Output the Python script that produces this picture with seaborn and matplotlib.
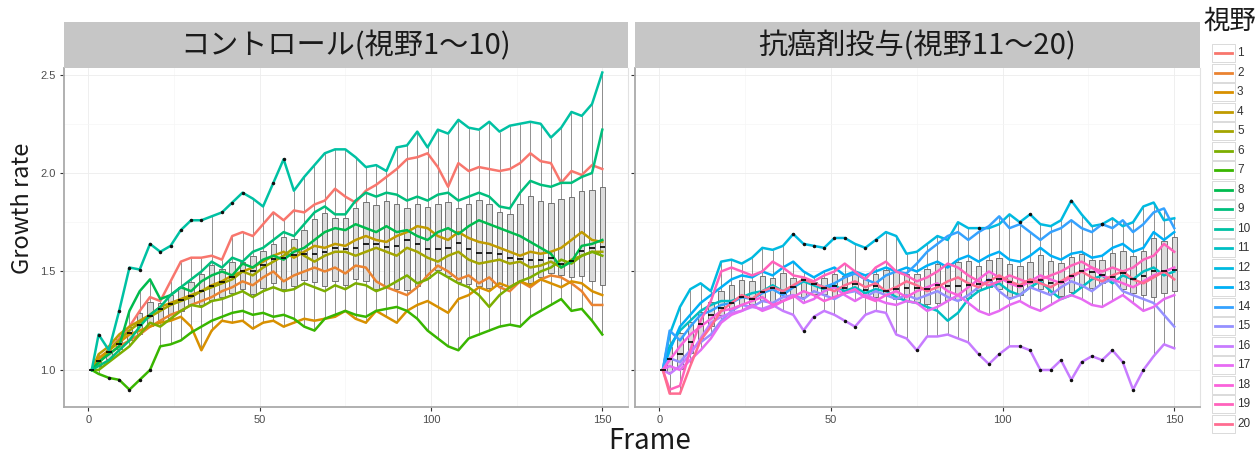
import matplotlib
matplotlib.use("Agg")
import matplotlib.pyplot as plt
from matplotlib.patches import Rectangle
from matplotlib.lines import Line2D
from matplotlib.ticker import MultipleLocator
import pandas as pd
import seaborn as sns

# ---- data -------------------------------------------------------------
frames = [1] + list(range(3, 151, 3))

# control group, fields of view 1-10
v01 = [1.00, 1.05, 1.10, 1.16, 1.22, 1.30, 1.37, 1.35, 1.45, 1.55,
       1.57, 1.57, 1.58, 1.56, 1.68, 1.70, 1.68, 1.74, 1.80, 1.76,
       1.81, 1.80, 1.84, 1.86, 1.92, 1.88, 1.85, 1.91, 1.94, 1.98,
       2.02, 2.07, 2.08, 2.10, 2.03, 1.93, 2.05, 2.01, 2.03, 2.02,
       2.01, 2.02, 2.05, 2.10, 2.06, 2.05, 1.95, 2.01, 1.99, 2.04,
       2.02]
v02 = [1.00, 1.05, 1.08, 1.12, 1.15, 1.18, 1.22, 1.25, 1.28, 1.30,
       1.33, 1.35, 1.37, 1.40, 1.42, 1.45, 1.43, 1.47, 1.50, 1.45,
       1.48, 1.50, 1.52, 1.50, 1.52, 1.49, 1.53, 1.52, 1.45, 1.42,
       1.40, 1.38, 1.42, 1.48, 1.53, 1.50, 1.46, 1.48, 1.44, 1.47,
       1.42, 1.40, 1.45, 1.42, 1.46, 1.48, 1.47, 1.44, 1.40, 1.33,
       1.33]
v03 = [1.00, 1.06, 1.10, 1.14, 1.18, 1.20, 1.22, 1.24, 1.25, 1.27,
       1.22, 1.10, 1.20, 1.25, 1.24, 1.25, 1.21, 1.24, 1.25, 1.22,
       1.24, 1.26, 1.25, 1.26, 1.27, 1.30, 1.26, 1.24, 1.30, 1.27,
       1.24, 1.30, 1.33, 1.35, 1.32, 1.29, 1.36, 1.38, 1.42, 1.40,
       1.44, 1.42, 1.45, 1.43, 1.46, 1.44, 1.42, 1.45, 1.44, 1.40,
       1.38]
v04 = [1.00, 1.08, 1.12, 1.18, 1.22, 1.25, 1.28, 1.32, 1.34, 1.36,
       1.38, 1.40, 1.43, 1.45, 1.48, 1.50, 1.52, 1.55, 1.58, 1.60,
       1.57, 1.60, 1.63, 1.62, 1.64, 1.63, 1.66, 1.68, 1.66, 1.65,
       1.68, 1.70, 1.73, 1.72, 1.68, 1.66, 1.70, 1.67, 1.65, 1.64,
       1.62, 1.60, 1.58, 1.60, 1.59, 1.60, 1.62, 1.66, 1.70, 1.66,
       1.65]
v05 = [1.00, 1.03, 1.10, 1.15, 1.20, 1.24, 1.27, 1.30, 1.33, 1.35,
       1.37, 1.40, 1.42, 1.44, 1.46, 1.50, 1.48, 1.52, 1.55, 1.58,
       1.62, 1.58, 1.55, 1.58, 1.60, 1.60, 1.58, 1.60, 1.62, 1.60,
       1.58, 1.62, 1.60, 1.57, 1.55, 1.58, 1.60, 1.56, 1.54, 1.55,
       1.56, 1.54, 1.55, 1.52, 1.53, 1.55, 1.52, 1.56, 1.58, 1.60,
       1.60]
v06 = [1.00, 1.00, 1.04, 1.08, 1.12, 1.18, 1.24, 1.22, 1.26, 1.30,
       1.33, 1.32, 1.35, 1.36, 1.38, 1.40, 1.37, 1.40, 1.42, 1.40,
       1.41, 1.44, 1.42, 1.40, 1.43, 1.41, 1.44, 1.43, 1.40, 1.42,
       1.45, 1.48, 1.44, 1.46, 1.50, 1.47, 1.44, 1.42, 1.38, 1.32,
       1.38, 1.42, 1.45, 1.47, 1.50, 1.52, 1.56, 1.54, 1.58, 1.60,
       1.58]
v07 = [1.00, 0.98, 0.96, 0.95, 0.90, 0.95, 1.00, 1.12, 1.13, 1.15,
       1.19, 1.22, 1.25, 1.27, 1.29, 1.30, 1.28, 1.29, 1.27, 1.28,
       1.26, 1.22, 1.20, 1.26, 1.28, 1.30, 1.28, 1.27, 1.30, 1.31,
       1.32, 1.30, 1.26, 1.20, 1.16, 1.12, 1.10, 1.16, 1.18, 1.20,
       1.22, 1.23, 1.22, 1.27, 1.30, 1.33, 1.36, 1.30, 1.31, 1.25,
       1.18]
v08 = [1.00, 1.04, 1.08, 1.12, 1.30, 1.40, 1.46, 1.36, 1.38, 1.42,
       1.40, 1.45, 1.48, 1.50, 1.48, 1.54, 1.52, 1.56, 1.58, 1.56,
       1.60, 1.62, 1.66, 1.70, 1.72, 1.71, 1.74, 1.72, 1.70, 1.73,
       1.70, 1.71, 1.68, 1.66, 1.70, 1.72, 1.69, 1.73, 1.76, 1.74,
       1.72, 1.70, 1.68, 1.65, 1.62, 1.59, 1.52, 1.55, 1.63, 1.64,
       1.66]
v09 = [1.00, 1.02, 1.05, 1.10, 1.15, 1.22, 1.28, 1.32, 1.38, 1.42,
       1.46, 1.50, 1.55, 1.52, 1.57, 1.55, 1.60, 1.62, 1.66, 1.70,
       1.68, 1.74, 1.80, 1.83, 1.79, 1.79, 1.86, 1.90, 1.88, 1.90,
       1.89, 1.86, 1.88, 1.86, 1.89, 1.90, 1.86, 1.88, 1.90, 1.88,
       1.83, 1.82, 1.90, 1.96, 1.94, 1.93, 1.95, 1.95, 1.98, 2.00,
       2.22]
v10 = [1.00, 1.18, 1.10, 1.30, 1.52, 1.51, 1.64, 1.60, 1.63, 1.71,
       1.76, 1.76, 1.78, 1.80, 1.85, 1.90, 1.87, 1.83, 1.95, 2.07,
       1.91, 1.98, 2.04, 2.10, 2.12, 2.12, 2.08, 2.03, 2.04, 2.01,
       2.13, 2.14, 2.21, 2.13, 2.22, 2.20, 2.27, 2.23, 2.22, 2.26,
       2.21, 2.24, 2.25, 2.26, 2.25, 2.18, 2.23, 2.31, 2.29, 2.35,
       2.51]

# anticancer drug group, fields of view 11-20
v11 = [1.00, 1.12, 1.20, 1.25, 1.30, 1.33, 1.35, 1.35, 1.37, 1.39,
       1.40, 1.43, 1.40, 1.42, 1.45, 1.43, 1.41, 1.43, 1.40, 1.42,
       1.39, 1.41, 1.40, 1.37, 1.35, 1.34, 1.32, 1.30, 1.25, 1.29,
       1.36, 1.40, 1.42, 1.44, 1.40, 1.38, 1.42, 1.45, 1.40, 1.36,
       1.38, 1.42, 1.46, 1.48, 1.44, 1.48, 1.46, 1.50, 1.52, 1.48,
       1.50]
v12 = [1.00, 1.18, 1.32, 1.41, 1.44, 1.40, 1.55, 1.56, 1.54, 1.57,
       1.62, 1.61, 1.63, 1.69, 1.64, 1.63, 1.62, 1.67, 1.67, 1.64,
       1.62, 1.66, 1.70, 1.68, 1.59, 1.60, 1.64, 1.68, 1.66, 1.75,
       1.72, 1.72, 1.72, 1.74, 1.79, 1.75, 1.79, 1.74, 1.73, 1.76,
       1.86, 1.79, 1.73, 1.74, 1.77, 1.73, 1.75, 1.83, 1.85, 1.76,
       1.77]
v13 = [1.00, 1.10, 1.22, 1.28, 1.34, 1.38, 1.42, 1.46, 1.48, 1.47,
       1.50, 1.48, 1.52, 1.55, 1.50, 1.47, 1.50, 1.52, 1.48, 1.50,
       1.48, 1.50, 1.52, 1.50, 1.52, 1.50, 1.53, 1.55, 1.52, 1.56,
       1.58, 1.55, 1.58, 1.60, 1.56, 1.55, 1.58, 1.62, 1.58, 1.56,
       1.59, 1.60, 1.57, 1.58, 1.62, 1.64, 1.60, 1.62, 1.70, 1.66,
       1.70]
v14 = [1.00, 1.20, 1.15, 1.22, 1.28, 1.30, 1.33, 1.34, 1.37, 1.36,
       1.39, 1.41, 1.38, 1.42, 1.46, 1.44, 1.42, 1.44, 1.47, 1.49,
       1.46, 1.44, 1.48, 1.50, 1.49, 1.54, 1.60, 1.64, 1.68, 1.70,
       1.66, 1.70, 1.73, 1.78, 1.72, 1.74, 1.70, 1.66, 1.70, 1.72,
       1.76, 1.72, 1.70, 1.74, 1.72, 1.76, 1.70, 1.74, 1.80, 1.82,
       1.72]
v15 = [1.00, 1.06, 1.04, 1.10, 1.14, 1.18, 1.25, 1.30, 1.33, 1.32,
       1.35, 1.34, 1.37, 1.38, 1.36, 1.40, 1.38, 1.36, 1.39, 1.40,
       1.37, 1.40, 1.38, 1.36, 1.38, 1.36, 1.38, 1.40, 1.37, 1.35,
       1.38, 1.42, 1.46, 1.40, 1.36, 1.38, 1.42, 1.40, 1.38, 1.42,
       1.45, 1.43, 1.40, 1.44, 1.46, 1.40, 1.38, 1.36, 1.34, 1.28,
       1.22]
v16 = [1.00, 0.98, 1.02, 1.08, 1.16, 1.24, 1.27, 1.29, 1.30, 1.32,
       1.31, 1.33, 1.30, 1.28, 1.20, 1.27, 1.30, 1.28, 1.25, 1.22,
       1.28, 1.30, 1.29, 1.18, 1.16, 1.10, 1.17, 1.17, 1.18, 1.16,
       1.14, 1.08, 1.03, 1.08, 1.12, 1.12, 1.10, 1.00, 1.00, 1.05,
       0.95, 1.04, 1.07, 1.05, 1.10, 1.04, 0.90, 1.00, 1.07, 1.13,
       1.11]
v17 = [1.00, 1.02, 1.00, 1.05, 1.10, 1.16, 1.24, 1.28, 1.30, 1.33,
       1.30, 1.32, 1.35, 1.38, 1.34, 1.36, 1.40, 1.42, 1.38, 1.35,
       1.38, 1.36, 1.34, 1.33, 1.35, 1.34, 1.30, 1.32, 1.35, 1.38,
       1.34, 1.30, 1.28, 1.30, 1.33, 1.35, 1.32, 1.30, 1.33, 1.36,
       1.38, 1.36, 1.33, 1.32, 1.35, 1.38, 1.34, 1.30, 1.32, 1.36,
       1.38]
v18 = [1.00, 1.05, 1.12, 1.18, 1.22, 1.26, 1.30, 1.31, 1.33, 1.35,
       1.37, 1.33, 1.35, 1.37, 1.40, 1.38, 1.35, 1.37, 1.39, 1.41,
       1.37, 1.35, 1.38, 1.40, 1.37, 1.40, 1.42, 1.44, 1.40, 1.38,
       1.42, 1.46, 1.50, 1.47, 1.44, 1.42, 1.45, 1.48, 1.46, 1.44,
       1.47, 1.50, 1.52, 1.48, 1.46, 1.44, 1.42, 1.45, 1.48, 1.50,
       1.52]
v19 = [1.00, 0.90, 0.92, 1.10, 1.25, 1.35, 1.50, 1.52, 1.50, 1.48,
       1.50, 1.55, 1.52, 1.48, 1.47, 1.45, 1.48, 1.50, 1.54, 1.50,
       1.46, 1.52, 1.55, 1.50, 1.48, 1.45, 1.47, 1.50, 1.54, 1.52,
       1.48, 1.45, 1.43, 1.45, 1.48, 1.46, 1.44, 1.46, 1.48, 1.50,
       1.53, 1.55, 1.52, 1.50, 1.52, 1.50, 1.52, 1.56, 1.58, 1.64,
       1.60]
v20 = [1.00, 0.88, 0.88, 1.02, 1.15, 1.22, 1.30, 1.34, 1.38, 1.36,
       1.40, 1.42, 1.40, 1.43, 1.46, 1.44, 1.42, 1.40, 1.43, 1.45,
       1.42, 1.44, 1.40, 1.42, 1.45, 1.43, 1.40, 1.42, 1.45, 1.47,
       1.44, 1.42, 1.45, 1.48, 1.45, 1.43, 1.46, 1.44, 1.42, 1.45,
       1.48, 1.50, 1.47, 1.45, 1.48, 1.50, 1.46, 1.44, 1.47, 1.50,
       1.46]

panel_titles = ["コントロール(視野1～10)", "抗癌剤投与(視野11～20)"]
legend_title = "視野"
x_label = "Frame"
y_label = "Growth rate"
x_ticks = [0, 50, 100, 150]
y_ticks = [1.0, 1.5, 2.0, 2.5]
field_labels = [str(i) for i in range(1, 21)]
field_colors = ["#F8766D", "#EA8331", "#D89000", "#C09B00", "#A3A500",
                "#7CAE00", "#39B600", "#00BB4E", "#00BF7D", "#00C1A3",
                "#00BFC4", "#00BAE0", "#00B0F6", "#35A2FF", "#9590FF",
                "#C77CFF", "#E76BF3", "#FA62DB", "#FF62BC", "#FF6C91"]

series = [v01, v02, v03, v04, v05, v06, v07, v08, v09, v10,
          v11, v12, v13, v14, v15, v16, v17, v18, v19, v20]
for s in series:
    if len(s) != len(frames):
        raise ValueError("series length mismatch")

rows = []
for i, vals in enumerate(series):
    for f, v in zip(frames, vals):
        rows.append({"Frame": f, "Growth rate": v, "視野": field_labels[i],
                     "panel": 0 if i < 10 else 1})
df = pd.DataFrame(rows)
palette = dict(zip(field_labels, field_colors))

# ---- figure -------------------------------------------------------------
plt.rcParams["font.family"] = ["Noto Sans CJK JP", "DejaVu Sans"]
W, H = 1258, 457
fig = plt.figure(figsize=(W / 100, H / 100), dpi=100)
fig.patch.set_facecolor("white")


def fx(px):
    return px / W


def fy(py):
    return 1 - py / H


panel_px = [(64, 628), (635, 1200)]
top_px, bottom_px, strip_top = 68, 407, 22
axes = []
for k, (x0, x1) in enumerate(panel_px):
    ax = fig.add_axes([fx(x0), fy(bottom_px), fx(x1) - fx(x0), fy(top_px) - fy(bottom_px)])
    axes.append(ax)
    sub = df[df["panel"] == k]
    levels = field_labels[k * 10:(k + 1) * 10]

    sns.boxplot(data=sub, x="Frame", y="Growth rate", native_scale=True,
                width=0.8, color="#DCDCDC", saturation=1, linecolor="#555555",
                linewidth=0.55, fliersize=1.5, showcaps=False,
                flierprops=dict(marker="o", markerfacecolor="#111111",
                                markeredgecolor="#111111"),
                medianprops=dict(color="black", linewidth=1.2),
                whiskerprops=dict(color="#666666", linewidth=0.5),
                ax=ax)
    sns.lineplot(data=sub, x="Frame", y="Growth rate", hue="視野",
                 hue_order=levels, palette=palette, linewidth=1.8,
                 estimator=None, errorbar=None, legend=False, ax=ax)
    for ln in ax.lines:
        if ln.get_marker() == "o":
            ln.set_zorder(5)

    ax.set_xlim(-7.1, 157.5)
    ax.set_ylim(0.812, 2.533)
    ax.set_xticks(x_ticks)
    ax.set_yticks(y_ticks)
    ax.xaxis.set_minor_locator(MultipleLocator(25))
    ax.yaxis.set_minor_locator(MultipleLocator(0.25))
    ax.set_axisbelow(True)
    ax.grid(which="major", color="#EDEDED", linewidth=0.6)
    ax.grid(which="minor", color="#F6F6F6", linewidth=0.5)
    ax.set_xlabel("")
    ax.set_ylabel("")
    ax.set_facecolor("white")
    for side in ("left", "bottom"):
        ax.spines[side].set_color("#AAAAAA")
        ax.spines[side].set_linewidth(1.3)
    ax.spines["top"].set_visible(False)
    ax.spines["right"].set_color("#E2E2E2")
    ax.spines["right"].set_linewidth(0.8)
    ax.tick_params(axis="both", which="major", length=3, width=0.8,
                   color="#333333", labelsize=8, labelcolor="#4D4D4D", pad=3)
    ax.tick_params(axis="both", which="minor", length=0)
    for lab in ax.get_xticklabels() + ax.get_yticklabels():
        lab.set_family("Liberation Sans")
    if k == 1:
        ax.tick_params(axis="y", labelleft=False)

    # facet strip
    fig.patches.append(Rectangle((fx(x0), fy(top_px)), fx(x1) - fx(x0),
                                 fy(strip_top) - fy(top_px),
                                 transform=fig.transFigure,
                                 facecolor="#C6C6C6", edgecolor="none"))
    fig.text(fx((x0 + x1) / 2), fy((strip_top + top_px) / 2 + 1), panel_titles[k],
             ha="center", va="center", fontsize=21, color="#1A1A1A")

# axis titles
fig.text(fx(23), fy(208), y_label, rotation=90, ha="center", va="center",
         fontsize=17, color="#1A1A1A")
fig.text(fx(650), fy(449), x_label, ha="center", va="baseline",
         fontsize=20, color="#1A1A1A")

# legend
fig.text(fx(1204), fy(21), legend_title, ha="left", va="center",
         fontsize=19, color="#1A1A1A")
for i, (lab, col) in enumerate(zip(field_labels, field_colors)):
    yc = 53.3 + 19.5 * i
    fig.patches.append(Rectangle((fx(1212), fy(yc + 9)), fx(1235) - fx(1212),
                                 18 / H, transform=fig.transFigure,
                                 facecolor="white", edgecolor="#D4D4D4",
                                 linewidth=0.6))
    fig.add_artist(Line2D([fx(1215), fx(1232)], [fy(yc), fy(yc)],
                          transform=fig.transFigure, color=col, linewidth=2))
    fig.text(fx(1237), fy(yc), lab, ha="left", va="center", fontsize=8.5,
             color="#333333", family="Liberation Sans")

fig.savefig("out.png", dpi=100, facecolor="white")
